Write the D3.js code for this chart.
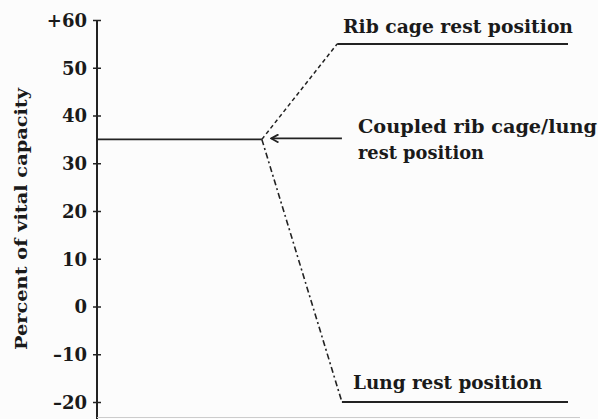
<!DOCTYPE html>
<html>
<head>
<meta charset="utf-8">
<script src="https://cdn.jsdelivr.net/npm/d3@7"></script>
<style>
  body { margin: 0; background: #fcfcfc; }
  svg { display: block; }
  .lbl { font-family: "DejaVu Serif", serif; fill: #1a1a1a; }
</style>
</head>
<body>
<svg class="chart" width="598" height="419"></svg>
<script>
// values (y = percent of vital capacity, x = arbitrary 0..100)
var yTicks = [-20, -10, 0, 10, 20, 30, 40, 50, 60];
var coupledLine = [[0, 35], [35, 35]];
var ribSlope = [[35, 35], [51, 55]];
var ribRest = [[51, 55], [100, 55]];
var lungSlope = [[35, 35], [52, -20]];
var lungRest = [[52, -20], [100, -20]];
var arrowLine = [[52, 35.2], [37, 35.2]];

var svg = d3.select(".chart");

var x = d3.scaleLinear().domain([0, 100]).range([97, 568]);
var y = d3.scaleLinear().domain([-20, 60]).range([402, 20]);

var line = d3.line()
    .x(function(d) { return x(d[0]); })
    .y(function(d) { return y(d[1]); });

svg.append("defs").append("marker")
    .attr("id", "arrow")
    .attr("viewBox", "0 0 10 10")
    .attr("refX", 9).attr("refY", 5)
    .attr("markerWidth", 9).attr("markerHeight", 9)
    .attr("markerUnits", "userSpaceOnUse")
    .attr("orient", "auto")
    .append("path")
    .attr("d", "M1,0.5 L9,5 L1,9.5")
    .attr("fill", "none")
    .attr("stroke", "#222")
    .attr("stroke-width", 2);

// y axis
var yAxis = d3.axisLeft(y)
    .tickValues(yTicks)
    .tickSize(4)
    .tickPadding(6)
    .tickFormat(function(d) {
        if (d === 60) return "+" + d;
        if (d < 0) return "\u2013" + Math.abs(d);
        return d;
    });

var axisG = svg.append("g")
    .attr("transform", "translate(" + x(0) + ",0)")
    .call(yAxis);

axisG.select(".domain").remove();
axisG.append("line")
    .attr("x1", 0).attr("x2", 0)
    .attr("y1", y(60)).attr("y2", 419)
    .attr("stroke", "#222").attr("stroke-width", 2);
axisG.selectAll(".tick line")
    .attr("x1", -4).attr("x2", 4)
    .attr("stroke", "#222").attr("stroke-width", 1.5);
axisG.selectAll(".tick text")
    .attr("class", "lbl")
    .attr("dy", "0.36em")
    .style("font-size", "18px")
    .style("font-weight", "bold")
    .attr("fill", "#1a1a1a");

// faint bottom edge
svg.append("line")
    .attr("x1", x(0)).attr("x2", 580)
    .attr("y1", 417.5).attr("y2", 417.5)
    .attr("stroke", "#ccc").attr("stroke-width", 1);

svg.append("text")
    .attr("class", "lbl")
    .attr("transform", "translate(27," + 219 + ") rotate(-90)")
    .attr("text-anchor", "middle")
    .attr("textLength", 262)
    .attr("lengthAdjust", "spacingAndGlyphs")
    .style("font-size", "17px")
    .style("font-weight", "bold")
    .text("Percent of vital capacity");

// lines
svg.append("path").datum(coupledLine)
    .attr("d", line).attr("fill", "none")
    .attr("stroke", "#222").attr("stroke-width", 1.8);

svg.append("path").datum(ribSlope)
    .attr("d", line).attr("fill", "none")
    .attr("stroke", "#222").attr("stroke-width", 1.5)
    .attr("stroke-dasharray", "4,3");

svg.append("path").datum(ribRest)
    .attr("d", line).attr("fill", "none")
    .attr("stroke", "#222").attr("stroke-width", 2);

svg.append("path").datum(lungSlope)
    .attr("d", line).attr("fill", "none")
    .attr("stroke", "#222").attr("stroke-width", 1.6)
    .attr("stroke-dasharray", "6,3,2,3");

svg.append("path").datum(lungRest)
    .attr("d", line).attr("fill", "none")
    .attr("stroke", "#222").attr("stroke-width", 2);

svg.append("path").datum(arrowLine)
    .attr("d", line).attr("fill", "none")
    .attr("stroke", "#222").attr("stroke-width", 1.6)
    .attr("marker-end", "url(#arrow)");

// annotations
var notes = [
    {t: "Rib cage rest position", x: 343, y: 33, w: 230},
    {t: "Coupled rib cage/lung", x: 358, y: 133, w: 239},
    {t: "rest position", x: 358, y: 159, w: 126},
    {t: "Lung rest position", x: 353, y: 389, w: 189}
];
svg.selectAll(".note").data(notes).enter().append("text")
    .attr("class", "lbl note")
    .attr("x", function(d) { return d.x; })
    .attr("y", function(d) { return d.y; })
    .attr("textLength", function(d) { return d.w; })
    .attr("lengthAdjust", "spacingAndGlyphs")
    .style("font-size", "18px")
    .style("font-weight", "bold")
    .text(function(d) { return d.t; });
</script>
</body>
</html>
